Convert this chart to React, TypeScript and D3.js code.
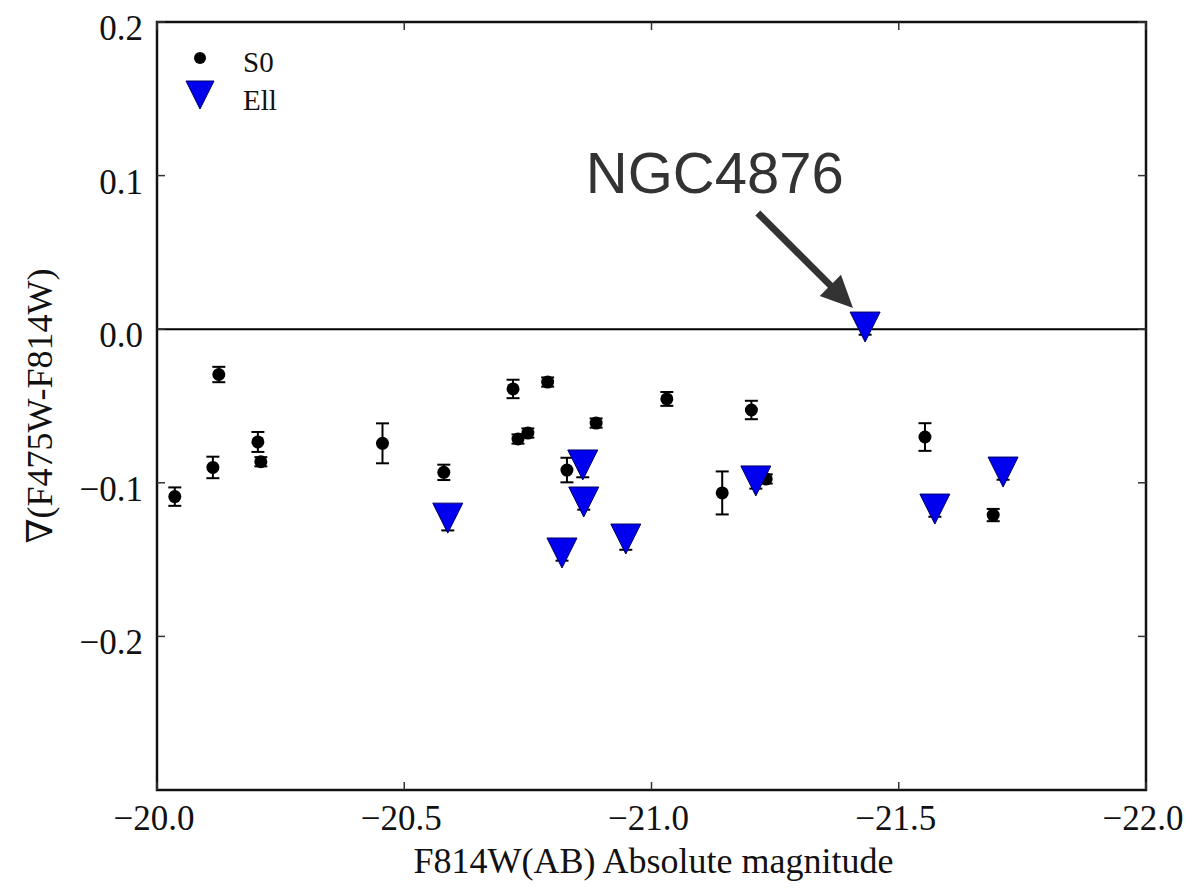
import React from "react";
import * as d3 from "d3";

// S0 galaxies: [magnitude, gradient, error]
const s0Mag = [-20.036, -20.113, -20.125, -20.204, -20.21, -20.456, -20.58, -20.72, -20.73, -20.75, -20.79, -20.829, -20.888, -21.031, -21.143, -21.202, -21.232, -21.553, -21.691];
const s0Grad = [-0.109, -0.09, -0.0295, -0.0734, -0.0863, -0.0743, -0.0932, -0.0389, -0.0715, -0.0676, -0.0344, -0.0917, -0.0611, -0.0454, -0.1066, -0.0526, -0.0975, -0.0702, -0.121];
const s0Err = [0.006, 0.007, 0.005, 0.0065, 0.003, 0.013, 0.005, 0.006, 0.003, 0.003, 0.003, 0.008, 0.003, 0.0045, 0.014, 0.006, 0.003, 0.009, 0.004];

// Elliptical galaxies
const ellMag = [-20.588, -20.819, -20.861, -20.863, -20.948, -21.211, -21.432, -21.573, -21.711];
const ellGrad = [-0.123, -0.1457, -0.0884, -0.1125, -0.1366, -0.0988, 0.0014, -0.1171, -0.093];
const ellErr = [0.008, 0.005, 0.008, 0.005, 0.007, 0.005, 0.005, 0.005, 0.005];

const xTicks = [-20.0, -20.5, -21.0, -21.5, -22.0];
const yTicks = [0.2, 0.1, 0.0, -0.1, -0.2];

const annLabel = "NGC4876";
const annText = [-21.128, 0.0887];
const annFrom = [-21.215, 0.0757];
const annTo = [-21.4075, 0.0138];

const W = 1197;
const H = 888;
const L = 157, R = 1146, T = 22, B = 790;
const serif = "Liberation Serif, DejaVu Serif, serif";
const sans = "Liberation Sans, Arial, sans-serif";

export default function App() {
  const x = d3.scaleLinear().domain([-20, -22]).range([L, R]);
  const y = d3.scaleLinear().domain([-0.3, 0.2]).range([B, T]);
  const fmt = (v: number) => (v < 0 ? "\u2212" : "") + Math.abs(v).toFixed(1);

  const tri = (cx: number, cy: number, s: number) =>
    `M${cx - s},${cy - s}L${cx + s},${cy - s}L${cx},${cy + s}Z`;

  const x0 = x(annFrom[0]), y0 = y(annFrom[1]);
  const x1 = x(annTo[0]), y1 = y(annTo[1]);
  const ang = Math.atan2(y1 - y0, x1 - x0);
  const len = Math.hypot(x1 - x0, y1 - y0);
  const hl = 32, hw = 15, sw = 3.5;
  const pts: [number, number][] = [
    [0, -sw], [len - hl, -sw], [len - hl, -hw], [len, 0], [len - hl, hw], [len - hl, sw], [0, sw],
  ];
  const arrowPts = pts
    .map(([u, v]) => [x0 + u * Math.cos(ang) - v * Math.sin(ang), y0 + u * Math.sin(ang) + v * Math.cos(ang)])
    .map((p) => p.join(","))
    .join(" ");

  const cap = 6.5;
  const st = { fontFamily: serif };

  return (
    <svg width={W} height={H} style={{ position: "absolute", left: 0, top: 0, background: "#fff", fontFamily: serif }}>
      <rect x={0} y={0} width={W} height={H} fill="#fff" />
      <line x1={L} x2={R} y1={y(0)} y2={y(0)} stroke="#000" strokeWidth={2} />

      {s0Mag.map((m, i) => {
        const cx = x(m), cy = y(s0Grad[i]);
        const yt = y(s0Grad[i] + s0Err[i]), yb = y(s0Grad[i] - s0Err[i]);
        return (
          <g key={"s" + i}>
            <line x1={cx} x2={cx} y1={yt} y2={yb} stroke="#000" strokeWidth={2} />
            <line x1={cx - cap} x2={cx + cap} y1={yt} y2={yt} stroke="#000" strokeWidth={2} />
            <line x1={cx - cap} x2={cx + cap} y1={yb} y2={yb} stroke="#000" strokeWidth={2} />
            <circle cx={cx} cy={cy} r={6.5} fill="#000" />
          </g>
        );
      })}

      {ellMag.map((m, i) => {
        const cx = x(m), cy = y(ellGrad[i]);
        const yt = y(ellGrad[i] + ellErr[i]), yb = y(ellGrad[i] - ellErr[i]);
        return (
          <g key={"e" + i}>
            <line x1={cx} x2={cx} y1={yt} y2={yb} stroke="#000" strokeWidth={2} />
            <line x1={cx - cap} x2={cx + cap} y1={yt} y2={yt} stroke="#000" strokeWidth={2} />
            <line x1={cx - cap} x2={cx + cap} y1={yb} y2={yb} stroke="#000" strokeWidth={2} />
            <path d={tri(cx, cy, 15)} fill="#0000ee" stroke="#000066" strokeWidth={1} />
          </g>
        );
      })}

      <rect x={L} y={T} width={R - L} height={B - T} fill="none" stroke="#111" strokeWidth={2.5} />

      {xTicks.map((t) => (
        <g key={"xt" + t}>
          <line x1={x(t)} x2={x(t)} y1={B} y2={B - 8} stroke="#333" strokeWidth={1.5} />
          <line x1={x(t)} x2={x(t)} y1={T} y2={T + 8} stroke="#333" strokeWidth={1.5} />
          <text x={x(t) - 3} y={B + 40} fontSize={35} textAnchor="middle" fill="#111" style={st}>
            {fmt(t)}
          </text>
        </g>
      ))}
      {yTicks.map((t) => (
        <g key={"yt" + t}>
          <line x1={L} x2={L + 8} y1={y(t)} y2={y(t)} stroke="#333" strokeWidth={1.5} />
          <line x1={R} x2={R - 8} y1={y(t)} y2={y(t)} stroke="#333" strokeWidth={1.5} />
          <text x={143} y={y(t) + 18} fontSize={35} textAnchor="end" fill="#111" style={st}>
            {fmt(t)}
          </text>
        </g>
      ))}

      <text x={(L + R) / 2 + 2} y={873} fontSize={36} textAnchor="middle" fill="#111" style={st}>
        F814W(AB) Absolute magnitude
      </text>
      <text transform={`translate(52,${(T + B) / 2}) rotate(-90)`} fontSize={36} textAnchor="middle" fill="#111" style={st}>
        ∇(F475W-F814W)
      </text>

      <circle cx={200} cy={58} r={6} fill="#000" />
      <text x={243} y={72} fontSize={29} fill="#111" style={st}>S0</text>
      <path d={tri(200, 95, 14)} fill="#0000ee" stroke="#000066" strokeWidth={1} />
      <text x={243} y={110} fontSize={29} fill="#111" style={st}>Ell</text>

      <polygon points={arrowPts} fill="#333" />
      <text x={x(annText[0])} y={y(annText[1])} fontSize={58} textAnchor="middle" fill="#333" style={{ fontFamily: sans }}>
        {annLabel}
      </text>
    </svg>
  );
}
